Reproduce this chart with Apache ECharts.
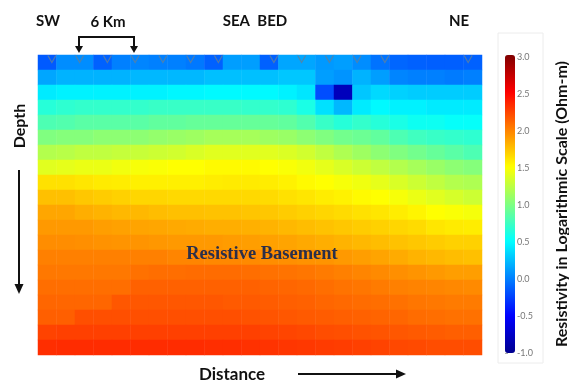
<!DOCTYPE html>
<html>
<head>
<meta charset="utf-8">
<script src="https://cdn.jsdelivr.net/npm/echarts@6/dist/echarts.min.js"></script>
<style>
    html, body { margin: 0; background: #fff; }
    #chart { width: 569px; height: 385px; }
</style>
</head>
<body>
<div id="chart"></div>
<script>
// column centres along the profile (km) and depth rows (top to bottom)
const distanceKm = [1, 3, 5, 7, 9, 11, 13, 15, 17, 19, 21, 23, 25, 27, 29, 31, 33, 35, 37, 39, 41, 43, 45, 47];
const depthRows = ['d0', 'd1', 'd2', 'd3', 'd4', 'd5', 'd6', 'd7', 'd8', 'd9', 'd10', 'd11', 'd12', 'd13', 'd14', 'd15', 'd16', 'd17', 'd18', 'd19'];

// log10 resistivity, one array per depth row, SW -> NE
const logResistivity = [
    [-0.15, 0.05, 0.05, -0.12, 0.0, 0.02, 0.0, 0.0, -0.03, -0.12, 0.12, 0.12, -0.12, 0.15, 0.15, 0.1, 0.12, 0.05, -0.05, -0.1, -0.12, -0.13, -0.13, -0.12],
    [0.15, 0.2, 0.2, 0.2, 0.2, 0.22, 0.22, 0.22, 0.22, 0.25, 0.25, 0.25, 0.25, 0.28, 0.28, 0.12, 0.08, 0.2, 0.12, 0.02, 0.0, 0.0, -0.02, 0.0],
    [0.42, 0.45, 0.45, 0.45, 0.45, 0.45, 0.45, 0.47, 0.47, 0.48, 0.48, 0.48, 0.48, 0.45, 0.4, -0.2, -0.8, 0.28, 0.35, 0.32, 0.3, 0.3, 0.3, 0.3],
    [0.65, 0.68, 0.7, 0.7, 0.7, 0.7, 0.72, 0.72, 0.72, 0.72, 0.72, 0.7, 0.7, 0.68, 0.6, 0.38, 0.22, 0.42, 0.48, 0.45, 0.45, 0.42, 0.42, 0.42],
    [0.8, 0.82, 0.85, 0.85, 0.85, 0.85, 0.88, 0.88, 0.9, 0.9, 0.9, 0.9, 0.9, 0.88, 0.82, 0.72, 0.65, 0.7, 0.65, 0.6, 0.55, 0.55, 0.52, 0.52],
    [1.0, 1.02, 1.02, 1.05, 1.05, 1.05, 1.08, 1.1, 1.12, 1.15, 1.15, 1.15, 1.12, 1.1, 1.05, 1.0, 0.95, 0.92, 0.88, 0.8, 0.75, 0.72, 0.7, 0.68],
    [1.2, 1.22, 1.25, 1.25, 1.27, 1.28, 1.3, 1.32, 1.35, 1.38, 1.38, 1.38, 1.38, 1.36, 1.32, 1.25, 1.18, 1.12, 1.05, 1.0, 0.95, 0.9, 0.85, 0.8],
    [1.38, 1.4, 1.42, 1.42, 1.45, 1.47, 1.48, 1.5, 1.5, 1.52, 1.52, 1.52, 1.5, 1.48, 1.45, 1.4, 1.35, 1.3, 1.25, 1.2, 1.15, 1.1, 1.05, 1.02],
    [1.62, 1.62, 1.6, 1.58, 1.57, 1.56, 1.56, 1.56, 1.56, 1.57, 1.58, 1.58, 1.57, 1.55, 1.52, 1.5, 1.47, 1.44, 1.4, 1.35, 1.3, 1.25, 1.2, 1.18],
    [1.75, 1.75, 1.72, 1.7, 1.68, 1.66, 1.66, 1.65, 1.65, 1.65, 1.65, 1.65, 1.64, 1.62, 1.6, 1.57, 1.55, 1.52, 1.5, 1.47, 1.42, 1.38, 1.34, 1.3],
    [1.85, 1.85, 1.82, 1.8, 1.78, 1.78, 1.76, 1.75, 1.75, 1.74, 1.74, 1.73, 1.72, 1.7, 1.68, 1.66, 1.64, 1.62, 1.6, 1.57, 1.54, 1.5, 1.48, 1.46],
    [1.9, 1.9, 1.9, 1.88, 1.87, 1.86, 1.85, 1.84, 1.83, 1.82, 1.82, 1.81, 1.8, 1.78, 1.76, 1.74, 1.72, 1.7, 1.68, 1.66, 1.64, 1.6, 1.58, 1.57],
    [1.95, 1.95, 1.94, 1.93, 1.92, 1.92, 1.91, 1.9, 1.9, 1.9, 1.89, 1.88, 1.87, 1.86, 1.84, 1.82, 1.8, 1.78, 1.76, 1.74, 1.72, 1.7, 1.68, 1.68],
    [2.0, 2.0, 2.0, 2.0, 2.0, 2.0, 2.0, 1.98, 1.98, 1.97, 1.97, 1.96, 1.95, 1.94, 1.93, 1.92, 1.9, 1.88, 1.86, 1.83, 1.8, 1.78, 1.76, 1.75],
    [2.03, 2.03, 2.03, 2.03, 2.03, 2.06, 2.07, 2.07, 2.08, 2.08, 2.08, 2.07, 2.06, 2.05, 2.04, 2.02, 2.0, 1.98, 1.96, 1.94, 1.92, 1.9, 1.88, 1.88],
    [2.07, 2.07, 2.07, 2.07, 2.07, 2.12, 2.12, 2.12, 2.12, 2.12, 2.12, 2.12, 2.11, 2.1, 2.09, 2.07, 2.05, 2.04, 2.02, 2.0, 1.99, 1.98, 1.97, 1.96],
    [2.1, 2.1, 2.1, 2.1, 2.16, 2.16, 2.16, 2.16, 2.16, 2.16, 2.15, 2.15, 2.14, 2.13, 2.12, 2.1, 2.09, 2.08, 2.07, 2.06, 2.04, 2.03, 2.02, 2.02],
    [2.13, 2.13, 2.19, 2.19, 2.19, 2.19, 2.19, 2.19, 2.19, 2.19, 2.19, 2.18, 2.17, 2.16, 2.15, 2.14, 2.13, 2.12, 2.11, 2.1, 2.08, 2.07, 2.06, 2.06],
    [2.24, 2.25, 2.25, 2.25, 2.25, 2.25, 2.25, 2.25, 2.25, 2.25, 2.25, 2.25, 2.24, 2.23, 2.22, 2.2, 2.19, 2.18, 2.17, 2.16, 2.15, 2.14, 2.13, 2.13],
    [2.32, 2.33, 2.33, 2.33, 2.33, 2.33, 2.33, 2.33, 2.33, 2.32, 2.32, 2.31, 2.3, 2.29, 2.28, 2.27, 2.26, 2.25, 2.24, 2.22, 2.21, 2.2, 2.2, 2.2]
];

// receiver stations on the sea bed (km along profile)
const stationKm = [1.5, 4.5, 7.5, 10.5, 13.5, 16.5, 19.5, 25.5, 28.5, 31.5, 34.5, 37.5, 46.5];

const scaleMin = -1;
const scaleMax = 3;
const scaleStep = 0.5;
const jetColors = ['#00008f', '#0000ff', '#0080ff', '#00ffff', '#80ff80', '#ffff00', '#ff8000', '#ff0000', '#800000'];

const cells = [];
logResistivity.forEach((row, r) => {
    row.forEach((v, c) => cells.push([c, r, v]));
});

const labelFont = 'Lato, "Open Sans", sans-serif';
const ink = '#111';

const chart = echarts.init(document.getElementById('chart'));

chart.setOption({
    animation: false,
    grid: [
        { left: 38, top: 55, width: 444, height: 300 },
        { left: 505, top: 57, width: 10, height: 296 }
    ],
    xAxis: [
        { type: 'category', gridIndex: 0, data: distanceKm, show: false },
        { type: 'value', gridIndex: 0, min: 0, max: 48, show: false },
        { type: 'value', gridIndex: 1, min: 0, max: 1, show: false }
    ],
    yAxis: [
        { type: 'category', gridIndex: 0, data: depthRows, inverse: true, show: false },
        { type: 'value', gridIndex: 0, min: 0, max: 20, inverse: true, show: false },
        {
            type: 'value',
            gridIndex: 1,
            position: 'right',
            min: scaleMin,
            max: scaleMax,
            interval: scaleStep,
            axisLine: { show: false },
            axisTick: { show: true, length: 3, lineStyle: { color: '#aaa' } },
            splitLine: { show: false },
            axisLabel: {
                fontSize: 9,
                color: '#777',
                margin: 2,
                fontFamily: labelFont,
                formatter: (v) => v.toFixed(1)
            }
        }
    ],
    visualMap: {
        type: 'continuous',
        seriesIndex: 0,
        min: scaleMin,
        max: scaleMax,
        calculable: false,
        orient: 'vertical',
        left: 505,
        top: 55,
        padding: 0,
        itemWidth: 10,
        itemHeight: 298,
        inRange: { color: jetColors }
    },
    series: [
        {
            type: 'heatmap',
            xAxisIndex: 0,
            yAxisIndex: 0,
            data: cells,
            silent: true,
            progressive: 0,
            itemStyle: { borderWidth: 0 }
        },
        {
            type: 'scatter',
            xAxisIndex: 1,
            yAxisIndex: 1,
            data: stationKm.map(k => [k, 0.27]),
            symbol: 'path://M0,0L5,8L10,0',
            symbolSize: [8, 7],
            silent: true,
            itemStyle: { color: 'transparent', borderColor: '#5f7f9c', borderWidth: 1.2 }
        }
    ],
    graphic: {
        elements: [
            // faint frame round the colour bar
            { type: 'rect', z: 100, shape: { x: 498, y: 33, width: 45, height: 330 }, style: { fill: 'none', stroke: '#ececec', lineWidth: 1 } },
            { type: 'text', z: 100, x: 48, y: 21, style: { text: 'SW', font: 'bold 15px ' + labelFont, fill: ink, textAlign: 'center', textVerticalAlign: 'middle' } },
            { type: 'text', z: 100, x: 108, y: 22, style: { text: '6 Km', font: 'bold 15px ' + labelFont, fill: ink, textAlign: 'center', textVerticalAlign: 'middle' } },
            { type: 'text', z: 100, x: 255, y: 21, style: { text: 'SEA  BED', font: 'bold 15px ' + labelFont, fill: ink, textAlign: 'center', textVerticalAlign: 'middle' } },
            { type: 'text', z: 100, x: 459, y: 21, style: { text: 'NE', font: 'bold 15px ' + labelFont, fill: ink, textAlign: 'center', textVerticalAlign: 'middle' } },
            // 6 km bracket
            { type: 'polyline', z: 100, shape: { points: [[79, 48], [79, 37], [134, 37], [134, 48]] }, style: { stroke: ink, lineWidth: 2, fill: 'none' } },
            { type: 'polygon', z: 100, shape: { points: [[75, 46], [83, 46], [79, 53]] }, style: { fill: ink } },
            { type: 'polygon', z: 100, shape: { points: [[130, 46], [138, 46], [134, 53]] }, style: { fill: ink } },
            // depth label and arrow
            { type: 'text', z: 100, x: 20, y: 126, rotation: Math.PI / 2, style: { text: 'Depth', font: 'bold 16px ' + labelFont, fill: ink, textAlign: 'center', textVerticalAlign: 'middle' } },
            { type: 'line', z: 100, shape: { x1: 19, y1: 170, x2: 19, y2: 286 }, style: { stroke: ink, lineWidth: 2 } },
            { type: 'polygon', z: 100, shape: { points: [[14.5, 284], [23.5, 284], [19, 294]] }, style: { fill: ink } },
            // distance label and arrow
            { type: 'text', z: 100, x: 232, y: 375, style: { text: 'Distance', font: 'bold 17px ' + labelFont, fill: ink, textAlign: 'center', textVerticalAlign: 'middle' } },
            { type: 'line', z: 100, shape: { x1: 298, y1: 374, x2: 398, y2: 374 }, style: { stroke: ink, lineWidth: 2 } },
            { type: 'polygon', z: 100, shape: { points: [[396, 369.5], [396, 378.5], [406, 374]] }, style: { fill: ink } },
            // annotation inside the section
            { type: 'text', z: 100, x: 262, y: 254, style: { text: 'Resistive Basement', font: 'bold 18.5px "Liberation Serif", serif', fill: '#2b2f4a', textAlign: 'center', textVerticalAlign: 'middle' } },
            // colour bar title
            { type: 'text', z: 100, x: 562, y: 204, rotation: Math.PI / 2, style: { text: 'Resistivity in Logarithmic Scale (Ohm-m)', font: 'bold 16px ' + labelFont, fill: ink, textAlign: 'center', textVerticalAlign: 'middle' } }
        ]
    }
});
</script>
</body>
</html>
